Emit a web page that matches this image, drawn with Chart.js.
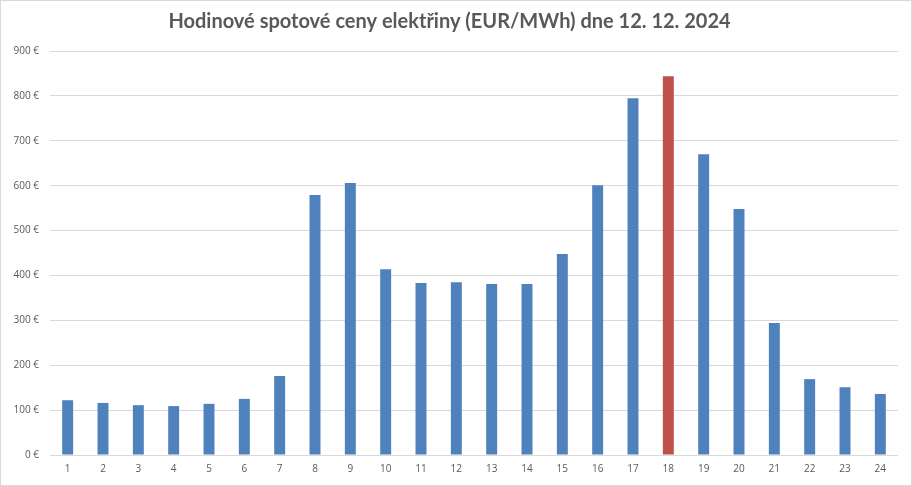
<!DOCTYPE html>
<html>
<head>
<meta charset="utf-8">
<script src="https://cdn.jsdelivr.net/npm/chart.js@4"></script>
<style>
  html, body { margin: 0; padding: 0; background: #fff; }
  #wrap { width: 912px; height: 486px; box-sizing: border-box; border: 1px solid #d9d9d9; position: relative; }
</style>
</head>
<body>
<div id="wrap"><canvas id="priceChart"></canvas></div>
<script>
const chartTitle = "Hodinové spotové ceny elektřiny (EUR/MWh) dne 12. 12. 2024";
const hours = ["1","2","3","4","5","6","7","8","9","10","11","12","13","14","15","16","17","18","19","20","21","22","23","24"];
const prices = [122, 116, 111, 109, 114, 125, 176, 579, 606, 414, 383, 385, 381, 381, 448, 601, 795, 844, 670, 548, 294, 169, 151, 136];
const peakHour = "18";

document.addEventListener("DOMContentLoaded", () => {
    const ctx = document.getElementById('priceChart').getContext('2d');

    // špička zvýrazněná červeně
    const barColors = hours.map(h => h === peakHour ? '#C0504D' : '#4F81BD');

    new Chart(ctx, {
        type: 'bar',
        data: {
            labels: hours,
            datasets: [{
                label: 'EUR/MWh',
                data: prices,
                backgroundColor: barColors,
                barPercentage: 0.62,
                categoryPercentage: 0.5
            }]
        },
        options: {
            responsive: true,
            maintainAspectRatio: false,
            animation: false,
            layout: { padding: { left: 0, right: 13, top: 0, bottom: 0 } },
            plugins: {
                legend: { display: false },
                tooltip: { enabled: false },
                title: {
                    display: true,
                    text: chartTitle,
                    color: '#595959',
                    font: { family: 'Lato', size: 20, weight: 'bold' },
                    padding: { top: 9, bottom: 17 }
                }
            },
            scales: {
                x: {
                    grid: { display: false, drawTicks: false },
                    border: { display: false },
                    ticks: { color: '#595959', font: { family: 'Open Sans', size: 10 }, padding: 8, maxRotation: 0 },
                    afterFit: (axis) => { axis.height = 30; }
                },
                y: {
                    min: 0,
                    max: 900,
                    grid: { color: '#d9d9d9', drawTicks: false },
                    border: { display: false },
                    ticks: {
                        stepSize: 100,
                        color: '#595959',
                        font: { family: 'Open Sans', size: 10 },
                        padding: 11,
                        callback: (v) => v + ' €'
                    },
                    afterFit: (axis) => { axis.width = 49; }
                }
            }
        }
    });
});
</script>
</body>
</html>
